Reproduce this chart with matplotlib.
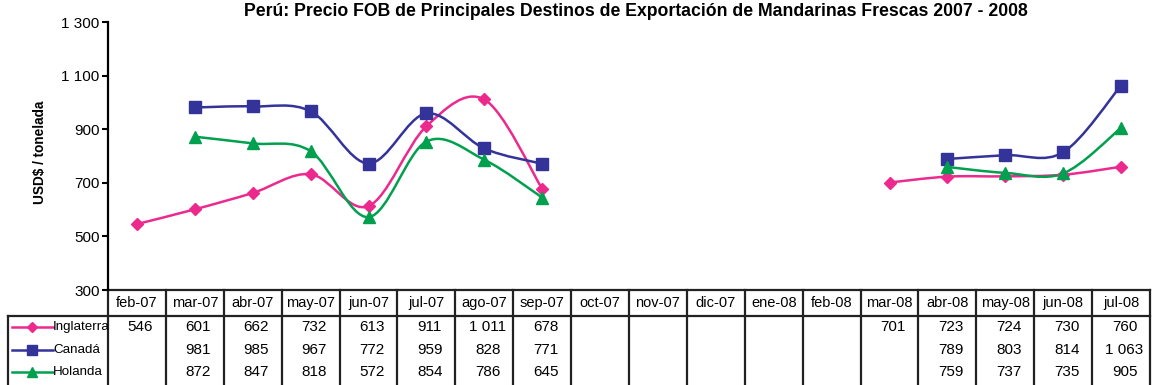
import numpy as np
import matplotlib.pyplot as plt
import matplotlib.transforms as mtransforms
from matplotlib.path import Path
from matplotlib.patches import PathPatch

plt.rcParams["font.family"] = ["Liberation Sans", "DejaVu Sans"]

months = ["feb-07", "mar-07", "abr-07", "may-07", "jun-07", "jul-07",
          "ago-07", "sep-07", "oct-07", "nov-07", "dic-07", "ene-08",
          "feb-08", "mar-08", "abr-08", "may-08", "jun-08", "jul-08"]

inglaterra = [546, 601, 662, 732, 613, 911, 1011, 678,
              None, None, None, None, None, 701, 723, 724, 730, 760]
canada = [None, 981, 985, 967, 772, 959, 828, 771,
          None, None, None, None, None, None, 789, 803, 814, 1063]
holanda = [None, 872, 847, 818, 572, 854, 786, 645,
           None, None, None, None, None, None, 759, 737, 735, 905]

series_names = ["Inglaterra", "Canadá", "Holanda"]
series_values = [inglaterra, canada, holanda]
colors = ["#EC2A8E", "#333399", "#00A04F"]
markers = ["D", "s", "^"]
marker_sizes = [6.5, 8.5, 8.5]

title = "Perú: Precio FOB de Principales Destinos de Exportación de Mandarinas Frescas 2007 - 2008"
y_label = "USD$ / tonelada"

W, H = 1152, 385
fig = plt.figure(figsize=(W / 100, H / 100), dpi=100)


def fx(x):
    return x / W


def fy(y):
    return 1 - y / H


def fmt(v):
    return f"{v:,}".replace(",", " ")


def smooth_path(xs, ys):
    # cubic Bezier through the points, control points from neighbours
    verts = [(xs[0], ys[0])]
    codes = [Path.MOVETO]
    n = len(xs)
    for i in range(n - 1):
        a = i - 1 if i > 0 else i
        d = i + 2 if i + 2 < n else i + 1
        c1 = (xs[i] + (xs[i + 1] - xs[a]) / 6, ys[i] + (ys[i + 1] - ys[a]) / 6)
        c2 = (xs[i + 1] - (xs[d] - xs[i]) / 6, ys[i + 1] - (ys[d] - ys[i]) / 6)
        verts += [c1, c2, (xs[i + 1], ys[i + 1])]
        codes += [Path.CURVE4] * 3
    return Path(verts, codes)


def runs(values):
    out, cur = [], []
    for i, v in enumerate(values):
        if v is None:
            if cur:
                out.append(cur)
            cur = []
        else:
            cur.append(i)
    if cur:
        out.append(cur)
    return out


left_px, right_px, top_px, bottom_px = 108, 1150, 22, 290
ax = fig.add_axes([fx(left_px), fy(bottom_px),
                   fx(right_px - left_px), (bottom_px - top_px) / H])
ax.set_xlim(-0.5, len(months) - 0.5)
ax.set_ylim(300, 1300)
yticks = list(range(300, 1301, 200))
ax.set_yticks(yticks)
ax.set_yticklabels([fmt(t) for t in yticks])
ax.set_xticks([])
for side in ["top", "right", "bottom"]:
    ax.spines[side].set_visible(False)
ax.spines["left"].set_linewidth(1.6)
ax.tick_params(axis="y", direction="out", length=4, width=1.5,
               labelsize=11, pad=2)

for vals, col, mk, ms in zip(series_values, colors, markers, marker_sizes):
    for idx in runs(vals):
        xs = np.array(idx, dtype=float)
        ys = np.array([vals[i] for i in idx], dtype=float)
        if len(xs) > 1:
            ax.add_patch(PathPatch(smooth_path(xs, ys), fill=False,
                                   edgecolor=col, lw=1.8))
        ax.plot(xs, ys, linestyle="none", marker=mk, markersize=ms,
                color=col, markeredgecolor=col, zorder=3, clip_on=False)

fig.text(fx(636), fy(12), title, ha="center", va="center",
         fontsize=12.7, fontweight="bold")
fig.text(fx(40), fy(152), y_label, rotation=90, ha="center", va="center",
         fontsize=9.8, fontweight="bold")

# data table under the plot
col_w = (right_px - left_px) / len(months)
label_left = -0.5 - (left_px - 8) / col_w
trans = mtransforms.blended_transform_factory(ax.transData, fig.transFigure)
line_kw = dict(color="#222222", lw=1.6, transform=trans, clip_on=False)
x_end = len(months) - 0.5
ax.plot([-0.5, x_end], [fy(290), fy(290)], **line_kw)
ax.plot([label_left, x_end], [fy(316), fy(316)], **line_kw)
for k in range(len(months) + 1):
    ax.plot([-0.5 + k, -0.5 + k], [fy(290), fy(H + 2)], **line_kw)
ax.plot([label_left, label_left], [fy(316), fy(H + 2)], **line_kw)

for i, m in enumerate(months):
    ax.text(i, fy(303), m, transform=trans, ha="center", va="center",
            fontsize=10.5)

row_y = [327, 350, 372]
for vals, ry in zip(series_values, row_y):
    for i, v in enumerate(vals):
        if v is not None:
            ax.text(i + 0.06, fy(ry), fmt(v), transform=trans, ha="center",
                    va="center", fontsize=11)

for name, col, mk, ms, ry in zip(series_names, colors, markers,
                                 marker_sizes, row_y):
    ax.plot([fx(12), fx(53)], [fy(ry), fy(ry)], color=col, lw=1.8,
            transform=fig.transFigure, clip_on=False)
    ax.plot([fx(32)], [fy(ry)], marker=mk, markersize=ms * 0.85, color=col,
            transform=fig.transFigure, clip_on=False)
    ax.text(fx(53), fy(ry), name, transform=fig.transFigure, ha="left",
            va="center", fontsize=9.6)

fig.savefig("out.png", dpi=100)
